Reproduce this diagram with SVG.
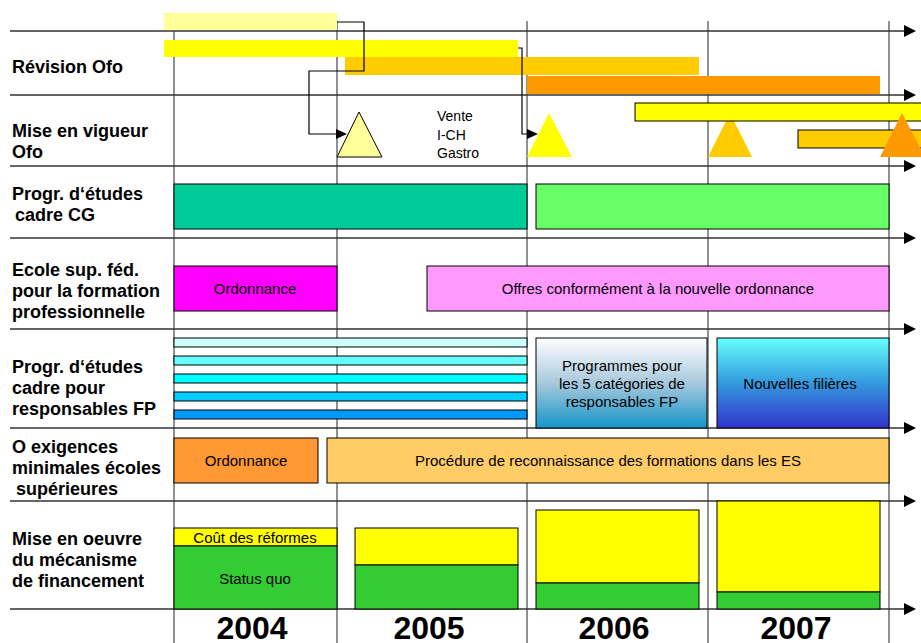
<svg xmlns="http://www.w3.org/2000/svg" width="921" height="643" viewBox="0 0 921 643">
<defs>
<marker id="ah" markerUnits="userSpaceOnUse" markerWidth="12" markerHeight="12" refX="0" refY="6" orient="auto"><path d="M0,0 L12,6 L0,12 z" fill="#000"/></marker>
<marker id="ca" markerUnits="userSpaceOnUse" markerWidth="11" markerHeight="10" refX="0" refY="5" orient="auto"><path d="M0,0 L11,5 L0,10 z" fill="#000"/></marker>
<linearGradient id="g1" x1="0" y1="0" x2="0" y2="1"><stop offset="0" stop-color="#FFFFFF"/><stop offset="0.5" stop-color="#A8C8DC"/><stop offset="1" stop-color="#1496C8"/></linearGradient>
<linearGradient id="g2" x1="0" y1="0" x2="0" y2="1"><stop offset="0" stop-color="#66FFFF"/><stop offset="0.5" stop-color="#3399DD"/><stop offset="1" stop-color="#3333CC"/></linearGradient>
</defs>
<style>
.lbl{font-family:"Liberation Sans",Arial,sans-serif;font-weight:bold;font-size:18px;fill:#000}
.t{font-family:"Liberation Sans",Arial,sans-serif;font-size:15px;fill:#000;text-anchor:middle}
.yr{font-family:"Liberation Sans",Arial,sans-serif;font-weight:bold;font-size:32px;fill:#000;text-anchor:middle}
.h{stroke:#333;stroke-width:1.6;fill:none}
.v{stroke:#222;stroke-width:1;fill:none}
.b{stroke:#000;stroke-width:1}
.c{stroke:#000;stroke-width:1.2;fill:none}
</style>
<rect width="921" height="643" fill="#fff"/>
<g id="grid">
<line class="v" x1="174" y1="31" x2="174" y2="643"/>
<line class="v" x1="337" y1="21" x2="337" y2="643"/>
<line class="v" x1="527" y1="21" x2="527" y2="643"/>
<line class="v" x1="708" y1="21" x2="708" y2="643"/>
<line class="v" x1="889" y1="21" x2="889" y2="643"/>
<line class="h" x1="10" y1="31" x2="904" y2="31" marker-end="url(#ah)"/>
<line class="h" x1="10" y1="95" x2="904" y2="95" marker-end="url(#ah)"/>
<line class="h" x1="10" y1="166" x2="904" y2="166" marker-end="url(#ah)"/>
<line class="h" x1="10" y1="238" x2="904" y2="238" marker-end="url(#ah)"/>
<line class="h" x1="10" y1="329" x2="904" y2="329" marker-end="url(#ah)"/>
<line class="h" x1="10" y1="428" x2="904" y2="428" marker-end="url(#ah)"/>
<line class="h" x1="10" y1="501" x2="904" y2="501" marker-end="url(#ah)"/>
<line class="h" x1="10" y1="609" x2="904" y2="609" marker-end="url(#ah)"/>
</g>
<g id="labels">
<text class="lbl" x="12" y="73">Révision Ofo</text>
<text class="lbl" x="12" y="137">Mise en vigueur</text>
<text class="lbl" x="12" y="158">Ofo</text>
<text class="lbl" x="12" y="200">Progr. d‘études</text>
<text class="lbl" x="15" y="221">cadre CG</text>
<text class="lbl" x="12" y="276">Ecole sup. féd.</text>
<text class="lbl" x="12" y="297">pour la formation</text>
<text class="lbl" x="12" y="318">professionnelle</text>
<text class="lbl" x="12" y="373">Progr.  d‘études</text>
<text class="lbl" x="12" y="394">cadre pour</text>
<text class="lbl" x="12" y="415">responsables FP</text>
<text class="lbl" x="12" y="453">O  exigences</text>
<text class="lbl" x="12" y="474">minimales écoles</text>
<text class="lbl" x="16" y="495">supérieures</text>
<text class="lbl" x="12" y="545">Mise en oeuvre</text>
<text class="lbl" x="12" y="566">du mécanisme</text>
<text class="lbl" x="12" y="587">de financement</text>
</g>
<g id="revision">
<rect x="164" y="13" width="173" height="17" fill="#FFFF99"/>
<rect x="164" y="40" width="354" height="17" fill="#FFFF00"/>
<rect x="345" y="57" width="354" height="18" fill="#FFCC00"/>
<rect x="527" y="76" width="353" height="18" fill="#FF9900"/>
</g>
<g id="connectors">
<path class="c" d="M337,22 H364 V71 H309 V134 H336" marker-end="url(#ca)"/>
<path class="c" d="M518,48 H522 V134 H527" marker-end="url(#ca)"/>
</g>
<g id="vigueur">
<polygon points="359,112 337,157 382,157" fill="#FFFF99" stroke="#000" stroke-width="1"/>
<polygon points="549,113 527,157 572,157" fill="#FFFF00"/>
<polygon points="730,113 708,157 752,157" fill="#FFCC00"/>
<rect class="b" x="635" y="103" width="300" height="18" fill="#FFFF00"/>
<rect class="b" x="798" y="130" width="140" height="18" fill="#FFCC00"/>
<polygon points="902,113 880,157 925,157" fill="#FF9900"/>
<text x="437" y="121" font-family="Liberation Sans, Arial, sans-serif" font-size="14">Vente</text>
<text x="437" y="140" font-family="Liberation Sans, Arial, sans-serif" font-size="14">I-CH</text>
<text x="437" y="158" font-family="Liberation Sans, Arial, sans-serif" font-size="14">Gastro</text>
</g>
<g id="cadreCG">
<rect class="b" x="174" y="184" width="353" height="45" fill="#00CC99"/>
<rect class="b" x="536" y="184" width="353" height="45" fill="#66FF66"/>
</g>
<g id="ecole">
<rect class="b" x="174" y="266" width="163" height="45" fill="#FF00FF"/>
<text class="t" x="255" y="294">Ordonnance</text>
<rect class="b" x="427" y="266" width="462" height="45" fill="#FF99FF"/>
<text class="t" x="658" y="294">Offres conformément à la nouvelle ordonnance</text>
</g>
<g id="responsables">
<rect class="b" x="174" y="338" width="353" height="9" fill="#CCFFFF"/>
<rect class="b" x="174" y="356" width="353" height="9" fill="#66FFFF"/>
<rect class="b" x="174" y="374" width="353" height="9" fill="#00FFFF"/>
<rect class="b" x="174" y="392" width="353" height="9" fill="#00CCFF"/>
<rect class="b" x="174" y="410" width="353" height="9" fill="#0099FF"/>
<rect class="b" x="536" y="338" width="171" height="90" fill="url(#g1)"/>
<text class="t" x="622" y="371">Programmes pour</text>
<text class="t" x="622" y="389">les 5 catégories de</text>
<text class="t" x="622" y="407">responsables FP</text>
<rect class="b" x="717" y="338" width="172" height="90" fill="url(#g2)"/>
<text class="t" x="800" y="389">Nouvelles filières</text>
</g>
<g id="exigences">
<rect class="b" x="174" y="438" width="144" height="45" fill="#FF9933"/>
<text class="t" x="246" y="466">Ordonnance</text>
<rect class="b" x="327" y="438" width="562" height="45" fill="#FFCC66"/>
<text class="t" x="608" y="466">Procédure de reconnaissance des formations dans les ES</text>
</g>
<g id="financement">
<rect class="b" x="174" y="528" width="163" height="18" fill="#FFFF00"/>
<rect class="b" x="174" y="546" width="163" height="63" fill="#33CC33"/>
<text class="t" x="255" y="543">Coût des réformes</text>
<text class="t" x="255" y="584">Status quo</text>
<rect class="b" x="355" y="528" width="163" height="37" fill="#FFFF00"/>
<rect class="b" x="355" y="565" width="163" height="44" fill="#33CC33"/>
<rect class="b" x="536" y="510" width="163" height="73" fill="#FFFF00"/>
<rect class="b" x="536" y="583" width="163" height="26" fill="#33CC33"/>
<rect class="b" x="717" y="501" width="163" height="91" fill="#FFFF00"/>
<rect class="b" x="717" y="592" width="163" height="17" fill="#33CC33"/>
</g>
<g id="years">
<text class="yr" x="252" y="639">2004</text>
<text class="yr" x="429" y="639">2005</text>
<text class="yr" x="614" y="639">2006</text>
<text class="yr" x="796" y="639">2007</text>
</g>
</svg>
